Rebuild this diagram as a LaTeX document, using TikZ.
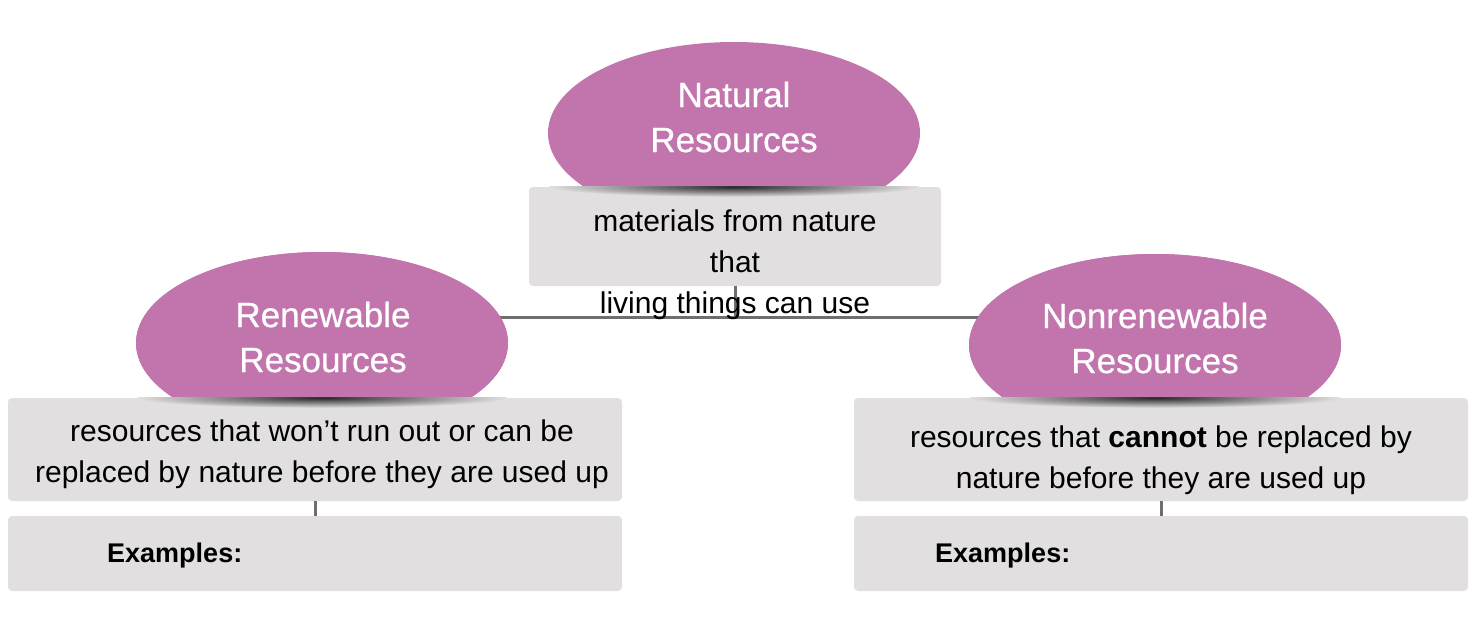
\documentclass[tikz,border=0pt]{standalone}
\usepackage{fontspec}
\setmainfont{Liberation Sans}
\newfontfamily\medfont{Liberation Sans}[BoldFont=Liberation Sans, BoldFeatures={FakeBold=0.7}]
\usetikzlibrary{shapes.geometric}
\definecolor{ellfill}{RGB}{194,116,173}
\definecolor{boxfill}{RGB}{225,223,224}
\definecolor{linegray}{RGB}{110,110,110}
\tikzset{
  oval/.style={ellipse, fill=ellfill, draw=none, minimum width=372pt, minimum height=182pt, inner sep=0pt},
  infobox/.style={rectangle, rounded corners=4pt, fill=boxfill, draw=none, inner sep=0pt},
  titletext/.style={text=white, align=center, font=\medfont\bfseries\fontsize{35}{45}\selectfont, inner sep=0pt},
  desctext/.style={text=black, align=center, font=\fontsize{30}{41}\selectfont, inner sep=0pt},
  extext/.style={text=black, anchor=west, font=\fontsize{27}{32}\selectfont\bfseries, inner sep=0pt},
  conn/.style={draw=linegray, line width=3pt},
  ovalshadow/.style={inner color=black!85, outer color=boxfill},
}
\begin{document}
\begin{tikzpicture}[x=1pt,y=-1pt]
\useasboundingbox (0,0) rectangle (1476,625);
% hub coordinate and main horizontal connector (behind ovals)
\coordinate (hub) at (735,317);
\node[oval] (ren) at (322,343) {};
\node[oval] (non) at (1155,345) {};
\node[oval] (nat) at (734,133) {};
\draw[conn] (ren.center |- hub) -- (non.center |- hub);
% redraw ovals on top of line
\node[oval] at (ren) {};
\node[oval] at (non) {};
% boxes
\node[infobox, minimum width=412pt, minimum height=99pt] (natbox) at (735,236.5) {};
\node[infobox, minimum width=614pt, minimum height=103pt] (renbox) at (315,449.5) {};
\node[infobox, minimum width=614pt, minimum height=75pt] (renex) at (315,553.5) {};
\node[infobox, minimum width=614pt, minimum height=103pt] (nonbox) at (1161,449.5) {};
\node[infobox, minimum width=614pt, minimum height=75pt] (nonex) at (1161,553.5) {};
% shadows under ovals
\begin{scope}
\clip (natbox.north west) rectangle (natbox.south east);
\shade[ovalshadow] (nat.center |- natbox.north) ellipse [x radius=185, y radius=10];
\end{scope}
\begin{scope}
\clip (renbox.north west) rectangle (renbox.south east);
\shade[ovalshadow] (ren.center |- renbox.north) ellipse [x radius=185, y radius=10];
\end{scope}
\begin{scope}
\clip (nonbox.north west) rectangle (nonbox.south east);
\shade[ovalshadow] (non.center |- nonbox.north) ellipse [x radius=185, y radius=10];
\end{scope}
% connectors
\draw[conn] (natbox.south -| hub) -- (hub);
\draw[conn] (renbox.south) -- (renex.north);
\draw[conn] (nonbox.south) -- (nonex.north);
% texts
\node[titletext] (natt) at (734,117) {Natural\\Resources};
\node[titletext] (rent) at (323,337) {Renewable\\Resources};
\node[titletext] (nont) at (1155,338) {Nonrenewable\\Resources};
\node[desctext] (natd) at (735,265) {materials from nature\\that\\living things can use};
\node[desctext] (rend) at (322,454.5) {resources that won’t run out or can be\\replaced by nature before they are used up};
\node[desctext] (nond) at (1161,460) {resources that \textbf{cannot} be replaced by\\nature before they are used up};
\node[extext] (renx) at (107,556) {Examples:};
\node[extext] (nonx) at (935,556) {Examples:};
\end{tikzpicture}
\end{document}
